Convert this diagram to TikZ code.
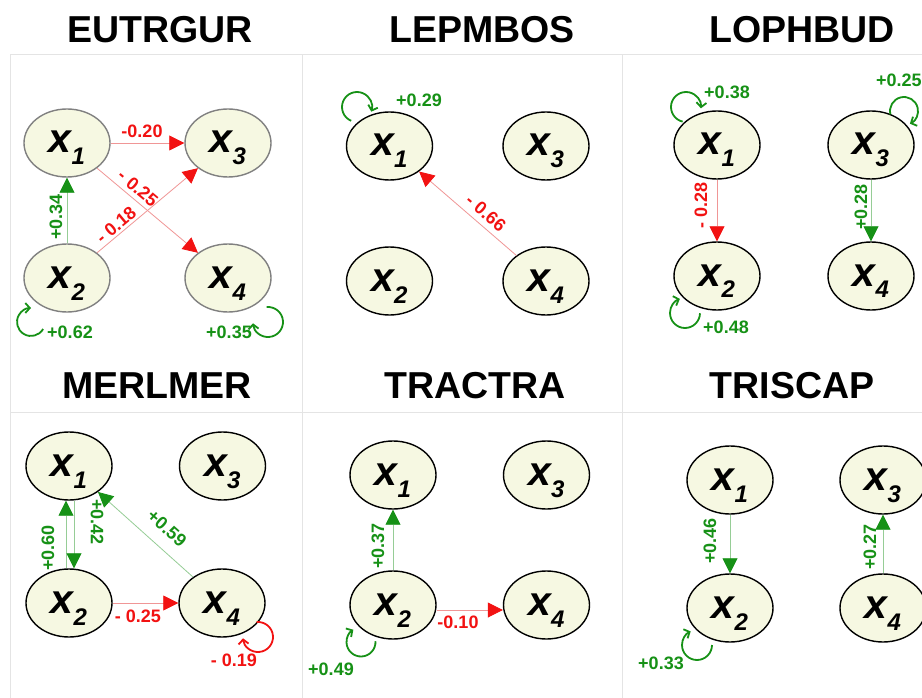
\documentclass[tikz,border=0pt]{standalone}
\usepackage{fontspec}
\setmainfont{Liberation Sans}
\usetikzlibrary{arrows.meta,shapes.geometric}
\definecolor{lred}{RGB}{242,18,18}
\definecolor{lgreen}{RGB}{22,145,22}
\definecolor{linered}{RGB}{240,150,150}
\definecolor{linegreen}{RGB}{150,205,150}
\definecolor{nodefill}{RGB}{246,248,226}
\definecolor{gridc}{RGB}{228,228,228}
\newcommand\xsub[1]{\raisebox{0pt}[27pt][7pt]{{\fontsize{41}{41}\selectfont\bfseries\itshape x}\raisebox{-12pt}{\fontsize{24}{24}\selectfont\bfseries\itshape #1}}}
\begin{document}
\begin{tikzpicture}[x=1pt,y=1pt,
  var/.style={ellipse, draw=black, line width=1.4pt, fill=nodefill, minimum width=86pt, minimum height=68pt, inner sep=0pt},
  grayvar/.style={var, draw=gray},
  title/.style={font=\fontsize{37.5}{38}\selectfont\bfseries, anchor=base, inner sep=0pt},
  lab/.style={font=\fontsize{18}{19}\selectfont\bfseries, inner sep=0pt},
  rlab/.style={lab, text=lred},
  glab/.style={lab, text=lgreen},
  redge/.style={draw=linered, line width=0.8pt, -{Triangle[length=15pt,width=15pt,color=lred]}},
  gedge/.style={draw=linegreen, line width=0.8pt, -{Triangle[length=15pt,width=15pt,color=lgreen]}},
  gloop/.style={draw=lgreen, line width=1.8pt, -{Straight Barb[length=4.5pt,width=10pt]}},
  rloop/.style={draw=lred, line width=1.8pt, -{Straight Barb[length=4.5pt,width=10pt]}},
  gridline/.style={draw=gridc, line width=1pt}]
\useasboundingbox (0,0) rectangle (922,-698);
\fill[white] (0,0) rectangle (922,-698);
% grid
\draw[gridline] (10,-55) -- (922,-55);
\draw[gridline] (10,-412) -- (922,-412);
\draw[gridline] (10,-55) -- (10,-698);
\draw[gridline] (302,-55) -- (302,-698);
\draw[gridline] (622,-55) -- (622,-698);
% titles
\node[title] (t1) at (160,-42.7) {EUTRGUR};
\node[title] (t2) at (482,-42.7) {LEPMBOS};
\node[title] (t3) at (802,-42.7) {LOPHBUD};
\node[title] (t4) at (157,-398) {MERLMER};
\node[title] (t5) at (475,-398) {TRACTRA};
\node[title] (t6) at (792,-398) {TRISCAP};

% ---------- Panel 1: EUTRGUR
\node[grayvar] (a1) at (67,-143) {\xsub{1}};
\node[grayvar] (a3) at (228,-143) {\xsub{3}};
\node[grayvar] (a2) at (67,-278) {\xsub{2}};
\node[grayvar] (a4) at (228,-278) {\xsub{4}};
\draw[redge] (a1) -- (a3);
\draw[redge] (a1) -- (a4);
\draw[redge] (a2) -- (a3);
\draw[gedge] (a2) -- (a1);
\node[rlab] (la13) at (142,-131) {-0.20};
\node[rlab, rotate=-40] (la14) at (138,-188) {- 0.25};
\node[rlab, rotate=40] (la23) at (116,-225) {- 0.18};
\node[glab, rotate=90] (la21) at (56,-217) {+0.34};
\draw[gloop] (31,-322) ++(-30:14) arc[start angle=-30, end angle=-270, radius=14];
\node[glab] (la22) at (70,-332) {+0.62};
\draw[gloop] (268,-322) ++(95:15) arc[start angle=95, end angle=-175, radius=15];
\node[glab] (la44) at (229,-332) {+0.35};

% ---------- Panel 2: LEPMBOS
\node[var] (b1) at (389.5,-146) {\xsub{1}};
\node[var] (b3) at (546,-146) {\xsub{3}};
\node[var] (b2) at (389.5,-281) {\xsub{2}};
\node[var] (b4) at (546,-281) {\xsub{4}};
\draw[redge] (b4) -- (b1);
\node[rlab, rotate=-40.5] (lb41) at (486,-213) {- 0.66};
\draw[gloop] (357,-107) ++(-113:15) arc[start angle=-113, end angle=-378, radius=15];
\node[glab] (lb11) at (419,-100) {+0.29};

% ---------- Panel 3: LOPHBUD
\node[var] (c1) at (717,-145) {\xsub{1}};
\node[var] (c3) at (871,-145) {\xsub{3}};
\node[var] (c2) at (717,-276) {\xsub{2}};
\node[var] (c4) at (871,-276) {\xsub{4}};
\draw[redge] (c1) -- (c2);
\draw[gedge] (c3) -- (c4);
\node[rlab, rotate=90] (lc12) at (701,-205) {- 0.28};
\node[glab, rotate=90] (lc34) at (861,-207) {+0.28};
\draw[gloop] (686,-107) ++(-103:15) arc[start angle=-103, end angle=-365, radius=15];
\node[glab] (lc11) at (727,-92) {+0.38};
\draw[gloop] (904,-111) ++(194:14) arc[start angle=194, end angle=-65, radius=14];
\node[glab, anchor=west] (lc33) at (876,-80) {+0.25};
\draw[gloop] (685,-313) ++(-1:15) arc[start angle=-1, end angle=-250, radius=15];
\node[glab] (lc22) at (726,-327) {+0.48};

% ---------- Panel 4: MERLMER
\node[var] (d1) at (69,-466) {\xsub{1}};
\node[var] (d3) at (222.5,-466) {\xsub{3}};
\node[var] (d2) at (69,-603) {\xsub{2}};
\node[var] (d4) at (222,-603) {\xsub{4}};
\draw[gedge] ([xshift=-3pt]d2.north) -- ([xshift=-3pt]d1.south);
\draw[gedge] ([xshift=5pt]d1.south) -- ([xshift=5pt]d2.north);
\draw[gedge] (d4) -- (d1);
\draw[redge] (d2) -- (d4);
\node[glab, rotate=90] (ld21) at (48,-548) {+0.60};
\node[glab, rotate=-90] (ld12) at (97,-522) {+0.42};
\node[glab, rotate=-41.8] (ld41) at (167,-528) {+0.59};
\node[rlab] (ld24) at (138,-616) {- 0.25};
\draw[rloop] (258,-637) ++(95:15) arc[start angle=95, end angle=-175, radius=15];
\node[rlab] (ld44) at (234,-660) {- 0.19};

% ---------- Panel 5: TRACTRA
\node[var] (e1) at (393,-475) {\xsub{1}};
\node[var] (e3) at (546.5,-475) {\xsub{3}};
\node[var] (e2) at (393,-605) {\xsub{2}};
\node[var] (e4) at (546.5,-605) {\xsub{4}};
\draw[gedge] (e2) -- (e1);
\draw[redge] ([yshift=-5pt]e2.east) -- ([yshift=-5pt]e4.west);
\node[glab, rotate=90] (le21) at (378,-546) {+0.37};
\node[rlab] (le24) at (458,-622) {-0.10};
\draw[gloop] (361,-642) ++(3:14.5) arc[start angle=3, end angle=-238, radius=14.5];
\node[glab] (le22) at (331,-669) {+0.49};

% ---------- Panel 6: TRISCAP
\node[var] (f1) at (730,-480) {\xsub{1}};
\node[var] (f3) at (883,-480) {\xsub{3}};
\node[var] (f2) at (730,-608) {\xsub{2}};
\node[var] (f4) at (883,-608) {\xsub{4}};
\draw[gedge] (f1) -- (f2);
\draw[gedge] (f4) -- (f3);
\node[glab, rotate=90] (lf12) at (710,-541) {+0.46};
\node[glab, rotate=90] (lf43) at (870,-547) {+0.27};
\draw[gloop] (697,-645) ++(0:15) arc[start angle=0, end angle=-245, radius=15];
\node[glab] (lf22) at (661,-663) {+0.33};
\end{tikzpicture}
\end{document}
